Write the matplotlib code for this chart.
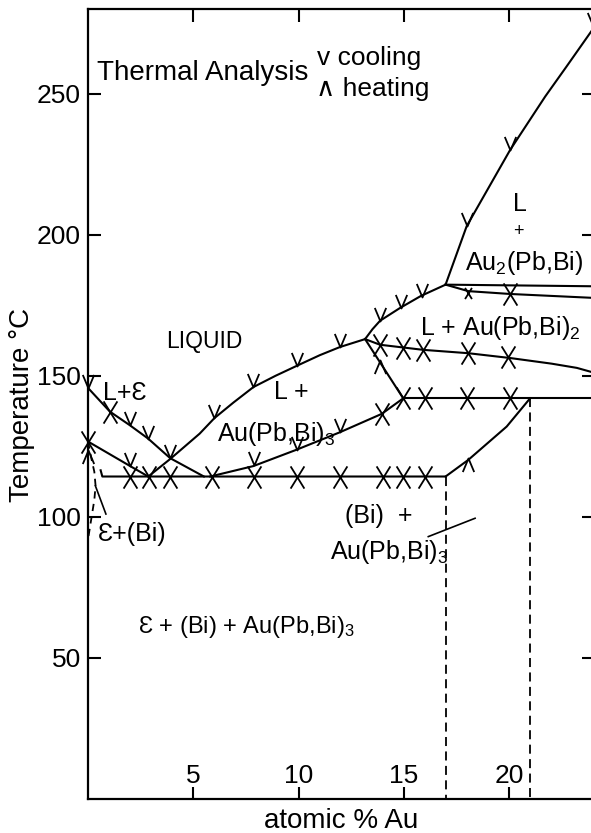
import matplotlib.pyplot as plt
from matplotlib.path import Path

plt.rcParams['font.family'] = ['Liberation Sans', 'DejaVu Sans']
plt.rcParams['mathtext.fontset'] = 'custom'
plt.rcParams['mathtext.rm'] = 'Liberation Sans'
plt.rcParams['mathtext.it'] = 'Liberation Sans'

# phase boundaries: atomic % Au against temperature (C)
liq_eps_x = [0, 1.04, 2.0, 2.86, 3.9, 5.5]
liq_eps_t = [145.7, 137.3, 132.4, 127.7, 120.8, 114.3]
eps_bi_x = [0, 2.0, 2.86]
eps_bi_t = [126.7, 118.0, 114.3]
liq3_x = [2.86, 3.9, 5.3, 6.0, 6.9, 7.85, 8.9, 9.9, 11.0, 11.96, 13.15]
liq3_t = [114.3, 120.5, 129.5, 135, 140.5, 146, 150, 153.5, 157.3, 160.2, 163]
low3_x = [5.8, 7.85, 9.9, 11.96, 13.94, 14.96]
low3_t = [114.3, 118, 123.8, 130, 136.5, 142]
liq2_x = [13.15, 13.5, 13.86, 14.8, 15.8, 16.97]
liq2_t = [163, 166.5, 169.5, 174, 178.3, 182.3]
liq_au2_x = [16.97, 17.97, 19.0, 20.03, 21.7, 22.7, 23.83, 24.3]
liq_au2_t = [182.3, 203, 216.5, 230, 249, 259.5, 271.5, 276.5]
per182_x = [16.97, 24.3]
per182_t = [182.3, 181.7]
sol178_x = [16.97, 18.05, 20.03, 24.3]
sol178_t = [182.3, 180, 179, 177.5]
per160_x = [13.15, 13.86, 15.9, 18.05, 20.03, 22, 23.2, 24.3]
per160_t = [163, 161, 159.2, 158, 156.3, 154.3, 152.8, 150.5]
drop_x = [13.15, 14.96]
drop_t = [163, 142]
tie142_x = [14.96, 24.3]
tie142_t = [142, 142]
rise_x = [16.97, 18.05, 19.87, 20.98]
rise_t = [114.3, 120.2, 132, 142]
eut_x = [0.6, 0.68, 16.97]
eut_t = [116.5, 114.3, 114.3]
solvus_x = [0, 0.15, 0.3, 0.36, 0.3, 0.15, 0]
solvus_t = [126.7, 121, 116, 111, 106, 99, 92]

# thermal analysis points
cool_x = [0, 2.0, 2.86, 3.9, 6.0, 7.85, 9.9, 11.96, 13.85, 14.85, 15.85,
          17.97, 20.03, 23.95, 2.0, 7.9, 9.9, 11.96]
cool_t = [145.7, 132.4, 127.7, 120.8, 135, 146, 153.5, 160.2, 169.4, 173.9, 178,
          203, 230, 274, 118, 118.3, 123.8, 130]
cross_x = [2.0, 2.9, 3.9, 5.9, 7.9, 9.9, 11.96, 14.0, 14.96, 16.0,
           0, 1.04, 13.94, 13.86, 14.96, 15.9, 18.05, 19.95,
           14.96, 16.0, 18.0, 20.03, 20.03]
cross_t = [114.3] * 10 + [126.7, 137.3, 136.5, 161, 160, 159.2, 158, 156.5,
                          142, 142, 142, 142, 179]
heat_x = [0, 13.85, 18.05]
heat_t = [123.8, 155.5, 120.7]

xticks = [5, 10, 15, 20]
yticks = [50, 100, 150, 200, 250]

v_mark = Path([(-0.42, 1), (0, 0), (0.42, 1)],
              [Path.MOVETO, Path.LINETO, Path.LINETO])
a_mark = Path([(-0.42, -1), (0, 0), (0.42, -1)],
              [Path.MOVETO, Path.LINETO, Path.LINETO])
x_mark = Path([(-0.62, 1), (0.62, -1), (0.62, 1), (-0.62, -1)],
              [Path.MOVETO, Path.LINETO, Path.MOVETO, Path.LINETO])

fig = plt.figure(figsize=(5.91, 8.33), dpi=100)
ax = fig.add_axes([88 / 591, 34 / 833, 505.7 / 591, 790 / 833])
ax.set_xlim(0, 24)
ax.set_ylim(0, 280)

lw = 1.5
for xs, ts in [(liq_eps_x, liq_eps_t), (eps_bi_x, eps_bi_t), (liq3_x, liq3_t),
               (low3_x, low3_t), (liq2_x, liq2_t), (liq_au2_x, liq_au2_t),
               (per182_x, per182_t), (sol178_x, sol178_t), (per160_x, per160_t),
               (drop_x, drop_t), (tie142_x, tie142_t), (rise_x, rise_t),
               (eut_x, eut_t)]:
    ax.plot(xs, ts, color='black', lw=lw)

ax.plot(solvus_x, solvus_t, color='black', lw=1.3, ls=(0, (4, 3)))
ax.plot([16.97, 16.97], [114.3, 0], color='black', lw=1.3, ls=(0, (5, 3)))
ax.plot([20.98, 20.98], [142, 0], color='black', lw=1.3, ls=(0, (5, 3)))

# label leaders
ax.plot([0.35, 0.85], [111, 101], color='black', lw=1.2)
ax.plot([16.15, 18.37], [93, 99.5], color='black', lw=1.2)

ax.plot(cool_x, cool_t, ls='none', marker=v_mark, ms=19.5, mfc='none',
        mec='black', mew=1.3, clip_on=False)
ax.plot(heat_x, heat_t, ls='none', marker=a_mark, ms=19.5, mfc='none',
        mec='black', mew=1.3, clip_on=False)
ax.plot(cross_x, cross_t, ls='none', marker=x_mark, ms=16, mfc='none',
        mec='black', mew=1.3, clip_on=False)
ax.plot([18.05], [179.5], ls='none', marker=x_mark, ms=8, mfc='none',
        mec='black', mew=1.3)

for s in ax.spines.values():
    s.set_linewidth(1.6)
ax.set_xticks(xticks)
ax.set_yticks(yticks)
ax.tick_params(direction='in', length=9, width=1.5, top=True, right=True,
               labelsize=19)
ax.tick_params(axis='x', pad=-25)
ax.tick_params(axis='y', pad=5)

fs = 18
ax.text(0.43, 255, 'Thermal Analysis', fontsize=20, va='baseline')
ax.text(10.87, 260.3, 'v cooling', fontsize=19, va='baseline')
ax.text(10.8, 249, '\u2227 heating', fontsize=19, va='baseline')
ax.text(5.5, 162, 'LIQUID', fontsize=16.5, ha='center', va='center')
ax.text(1.76, 144, 'L+\u0190', fontsize=fs, ha='center', va='center')
ax.text(9.66, 144.3, 'L +', fontsize=fs, ha='center', va='center')
ax.text(6.12, 127, 'Au(Pb,Bi)$_3$', fontsize=fs, va='baseline')
ax.text(15.76, 164.5, 'L + Au(Pb,Bi)$_2$', fontsize=fs, va='baseline')
ax.text(20.5, 211, 'L', fontsize=fs, ha='center', va='center')
ax.text(20.42, 201.2, '+', fontsize=13, ha='center', va='center')
ax.text(17.9, 187.6, 'Au$_2$(Pb,Bi)', fontsize=fs, va='baseline')
ax.text(12.2, 97.9, '(Bi)  +', fontsize=fs, va='baseline')
ax.text(11.49, 85, 'Au(Pb,Bi)$_3$', fontsize=fs, va='baseline')
ax.text(2.37, 58.9, '\u0190 + (Bi) + Au(Pb,Bi)$_3$', fontsize=17, va='baseline')
ax.text(0.47, 91.5, '\u0190+(Bi)', fontsize=fs, va='baseline')

fig.text(22 / 591, 1 - 405 / 833, 'Temperature \u00b0C', fontsize=20,
         rotation=90, ha='center', va='center')
fig.text(341 / 591, 5 / 833, 'atomic % Au', fontsize=20, ha='center',
         va='baseline')

fig.savefig('out.png', dpi=100)
